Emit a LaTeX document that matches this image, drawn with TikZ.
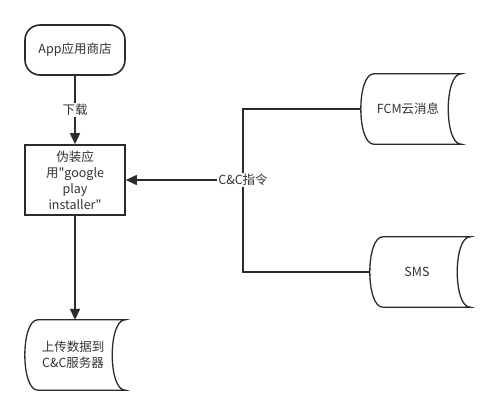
\documentclass[tikz,border=0pt]{standalone}
\usepackage{fontspec}
\newfontfamily\cjkf{Noto Sans CJK SC}
\usetikzlibrary{arrows.meta}
\definecolor{ln}{HTML}{2B2B2B}
\definecolor{tx}{HTML}{333333}
\tikzset{
  base/.style={font=\cjkf\fontsize{12.5pt}{16pt}\selectfont, text=tx},
  appbox/.style={base, draw=ln, line width=1.6pt, rounded corners=15pt, minimum width=100pt, minimum height=50pt, inner sep=0pt},
  procbox/.style={base, draw=ln, line width=1.6pt, minimum width=100pt, minimum height=70pt, inner sep=0pt, align=center},
  stbox/.style={base, minimum width=100pt, minimum height=70pt, inner sep=0pt, align=center},
  shp/.style={draw=ln, line width=1.3pt},
  arr/.style={draw=ln, line width=1.6pt, -{Triangle[length=11pt,width=10pt]}},
  conn/.style={draw=ln, line width=1.3pt},
  lbl/.style={base, fill=white, inner sep=1pt}
}
\newcommand\stshape[1]{%
  \draw[shp] ([xshift=13pt]#1.north west) -- (#1.north east)
    .. controls ([xshift=-17.3pt]#1.north east) and ([xshift=-17.3pt]#1.south east) .. (#1.south east)
    -- ([xshift=13pt]#1.south west)
    .. controls ([xshift=-4.3pt]#1.south west) and ([xshift=-4.3pt]#1.north west) .. ([xshift=13pt]#1.north west) -- cycle;}
\begin{document}
\begin{tikzpicture}[x=1pt,y=-1pt]
\useasboundingbox (0,0) rectangle (495,416);
\node[appbox] (app) at (75,50) {App应用商店};
\node[procbox] (box) at (75,180) {伪装应\\用"google\\play\\installer"};
\node[stbox] (up) at (75,355) {\hspace*{-4pt}上传数据到\\\hspace*{-4pt}C\&C服务器};
\node[stbox] (fcm) at (411,109) {\hspace*{-6pt}FCM云消息};
\node[stbox] (sms) at (420,272) {\hspace*{-6pt}SMS};
\stshape{up}
\stshape{fcm}
\stshape{sms}
\coordinate (j) at (243,180);
\draw[arr] (app) -- (box) node[midway, lbl] {下载};
\draw[arr] (box) -- (up);
\draw[conn] (fcm.west) -| (j) |- (sms.west);
\draw[arr] (j) -- (box.east);
\node[lbl] (cc) at (j) {C\&C指令};
\end{tikzpicture}
\end{document}
